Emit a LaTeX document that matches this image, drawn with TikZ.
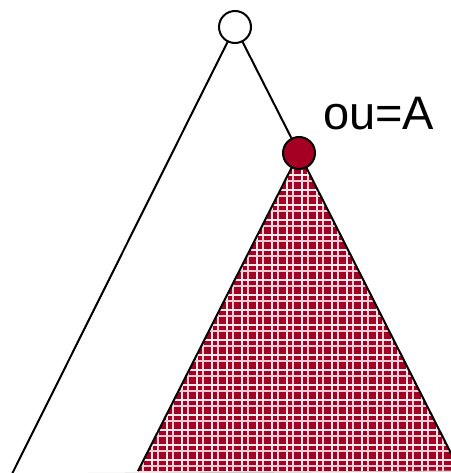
\documentclass[tikz,border=0pt]{standalone}
\usepackage{fontspec}
\setmainfont{Liberation Sans}
\definecolor{plaidred}{RGB}{165,0,35}
\begin{document}
\begin{tikzpicture}[x=1pt, y=-1pt, line width=2pt,
  knot/.style={circle, draw=black, line width=2pt, minimum size=32pt, inner sep=0pt},
  check/.style={white!92!plaidred, line width=2.6pt},
  thincheck/.style={white!80!plaidred, line width=1.5pt}]
\useasboundingbox (0,0) rectangle (450,473);

% points of the tree
\coordinate (r) at (235,27);
\coordinate (a) at (299,153);
\coordinate (L) at (12,474);
\coordinate (BL) at (138,471);
\coordinate (BR) at (460,471);

% subtree below A, red with white checks
\fill[plaidred] (a) -- (BL) -- (BR) -- cycle;
\begin{scope}
  \clip (a) -- (BL) -- (BR) -- cycle;
  \foreach \x in {137,152,...,465} {
    \draw[check] (\x,150) -- (\x,475);
    \draw[thincheck] (\x+6,150) -- (\x+6,475);
  }
  \foreach \y in {160,175,...,480} {
    \draw[check] (130,\y) -- (460,\y);
    \draw[thincheck] (130,\y+6) -- (460,\y+6);
  }
\end{scope}
\draw[gray!40, line width=1pt] (L) -- (BR);

% nodes
\node[knot, fill=white] (root) at (r) {};
\node[knot, fill=plaidred] (A) at (a) {};

% edges
\draw (root) -- (L);
\draw (root) -- (A);
\draw (A) -- (BL);
\draw (A) -- (BR);

% label
\node[font=\fontsize{47}{47}\selectfont, anchor=base west, inner sep=0pt] (lbl) at (322,130) {ou=A};

\end{tikzpicture}
\end{document}
